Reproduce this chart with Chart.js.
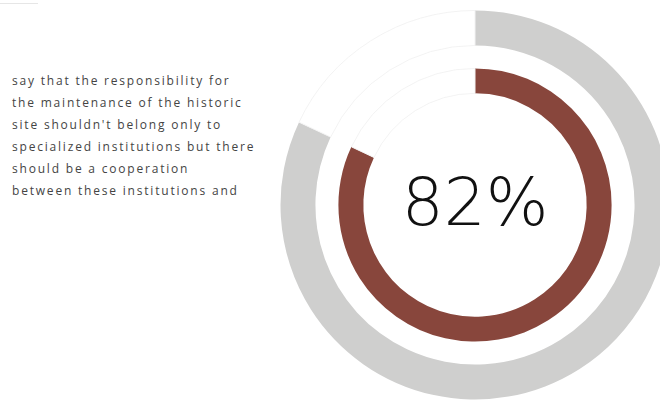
<!DOCTYPE html>
<html>
<head>
<meta charset="utf-8">
<script src="https://cdn.jsdelivr.net/npm/chart.js@4/dist/chart.umd.min.js"></script>
<style>
  html, body { margin: 0; padding: 0; width: 660px; height: 401px; overflow: hidden; background: #fff; }
  #topline { position: absolute; left: 0; top: 3px; width: 38px; height: 0; border-top: 1px solid #e6e6e6; }
  #caption { position: absolute; left: 12px; top: 70px; font-family: "Open Sans", sans-serif; font-size: 12px;
    line-height: 22px; letter-spacing: 1.8px; color: #444; white-space: nowrap; }
  #wrap { position: absolute; left: 280px; top: 10px; width: 390px; height: 390px; }
</style>
</head>
<body>
<div id="topline"></div>
<div id="caption"></div>
<div id="wrap"><canvas id="c" width="390" height="390"></canvas></div>
<script>
const captionLines = [
  "say that the responsibility for",
  "the maintenance of the historic",
  "site shouldn't belong only to",
  "specialized institutions but there",
  "should be a cooperation",
  "between these institutions and"
];
const percentValue = 82;
const restValue = 100 - percentValue;
const centerLabel = percentValue + "%";

document.getElementById('caption').innerHTML = captionLines.map(l => '<div>' + l + '</div>').join('');

const centerText = {
  id: 'centerText',
  afterDraw(chart) {
    const meta = chart.getDatasetMeta(0);
    const arc = meta.data[0];
    const ctx = chart.ctx;
    ctx.save();
    ctx.font = '200 66px "DejaVu Sans", sans-serif';
    ctx.fillStyle = '#111';
    ctx.textAlign = 'center';
    ctx.textBaseline = 'middle';
    ctx.fillText(centerLabel, arc.x, arc.y + 3);
    ctx.restore();
  }
};

new Chart(document.getElementById('c'), {
  type: 'doughnut',
  data: {
    labels: ['yes', 'rest'],
    datasets: [
      { data: [percentValue, restValue], backgroundColor: ['#cfcfce', '#ffffff'],
        borderColor: ['#cfcfce', '#f3f3f3'], borderWidth: [0, 1], weight: 35 },
      { data: [percentValue, restValue], backgroundColor: ['rgba(0,0,0,0)', 'rgba(0,0,0,0)'],
        borderWidth: 0, weight: 23 },
      { data: [percentValue, restValue], backgroundColor: ['#88463c', '#ffffff'],
        borderColor: ['#88463c', '#f3f3f3'], borderWidth: [0, 1], weight: 25 }
    ]
  },
  options: {
    responsive: false,
    animation: false,
    cutout: '57.4%',
    layout: { padding: 0 },
    events: [],
    plugins: { legend: { display: false }, tooltip: { enabled: false } }
  },
  plugins: [centerText]
});
</script>
</body>
</html>
